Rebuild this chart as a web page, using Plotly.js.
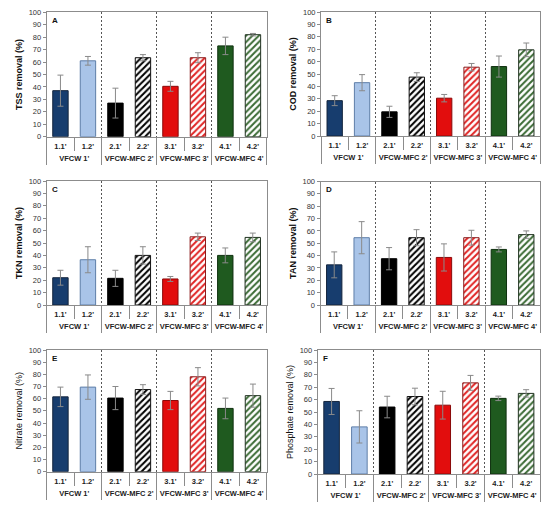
<!DOCTYPE html>
<html>
<head>
<meta charset="utf-8">
<script src="https://cdn.plot.ly/plotly-3.0.1.min.js"></script>
<style>html,body{margin:0;padding:0;background:#fff;}#chart{width:550px;height:505px;}</style>
</head>
<body>
<div id="chart"></div>
<script>
// ---------- DATA ----------
const categories = ["1.1'", "1.2'", "2.1'", "2.2'", "3.1'", "3.2'", "4.1'", "4.2'"];
const groups = ["VFCW 1'", "VFCW-MFC 2'", "VFCW-MFC 3'", "VFCW-MFC 4'"];

const tssMean = [37, 61, 27, 63.5, 40.5, 63.5, 73, 82];
const tssErr  = [12.5, 3.5, 12, 2.5, 4, 4, 7, 1];

const codMean = [28.5, 43, 19.5, 47.5, 30.5, 55.5, 56, 69.5];
const codErr  = [4, 6.5, 4.5, 3.5, 3, 3, 8.5, 5.5];

const tknMean = [22, 36.5, 21.5, 40, 21, 55, 40, 54.5];
const tknErr  = [6, 10.5, 6.5, 7, 2, 3, 6, 3.5];

const tanMean = [32.5, 54.5, 37.5, 54.5, 38.5, 54.5, 45, 57];
const tanErr  = [10.5, 13, 9, 6.5, 11, 6, 2, 3];

const nitMean = [61.5, 69.5, 60.5, 67.5, 58.5, 78, 52, 62.5];
const nitErr  = [8, 10, 9.5, 4, 7.5, 7.5, 8.5, 9.5];

const phoMean = [58.5, 38, 54, 62.5, 55.5, 73.5, 61, 65];
const phoErr  = [10.5, 13, 8.7, 6.7, 11.2, 6, 1.8, 3];

const panelLetters = ["A", "B", "C", "D", "E", "F"];
const yTitles = ["TSS removal (%)", "COD removal (%)", "TKN removal (%)", "TAN removal (%)", "Nitrate removal (%)", "Phosphate removal (%)"];
const yTitleBold = [true, true, true, true, false, false];
const yTickVals = [0, 10, 20, 30, 40, 50, 60, 70, 80, 90, 100];

// ---------- STYLE ----------
const barColors   = ['#173d6e', '#a9c4e8', '#000000', '#000000', '#e20d0d', '#e02424', '#1f5a1f', '#3b6b35'];
const lineColors  = ['#14253d', '#5e7ea8', '#000000', '#111111', '#8a0a0a', '#8b1c1c', '#0f300f', '#223322'];
const hatched     = [false, false, false, true, false, true, false, true];

const FONT = 'Liberation Sans, Arial, sans-serif';
const GRAY = '#8c8c8c';
const W = 550, H = 505;
// panel boxes in px: [left, right, top, bottom]
const boxes = [
  [46.7, 266.7, 12.3, 136.7],
  [321, 540, 12, 136],
  [46.7, 266.5, 181, 305],
  [320.5, 540, 181.5, 305],
  [46.7, 266.7, 350, 471.7],
  [317.7, 540, 350, 474]
];

const means = [tssMean, codMean, tknMean, tanMean, nitMean, phoMean];
const errs  = [tssErr, codErr, tknErr, tanErr, nitErr, phoErr];

const groupCenters = groups.map((g, i) => 2 * i + 0.5);
const groupBounds = [-0.5].concat(groups.map((g, i) => 2 * i + 1.5));

function pick(arr, want) { return arr.filter((v, k) => hatched[k] === want); }

const data = [];
const layout = {
  width: W, height: H,
  margin: {l: 0, r: 0, t: 0, b: 0},
  paper_bgcolor: '#fff', plot_bgcolor: '#fff',
  showlegend: false, barmode: 'overlay',
  font: {family: FONT, color: '#222'},
  annotations: []
};

function axName(p, n) { return p + 'axis' + (n === 1 ? '' : n); }
function axRef(p, n) { return p + (n === 1 ? '' : n); }

for (let i = 0; i < 6; i++) {
  const b = boxes[i];
  const xd = [b[0] / W, b[1] / W];
  const yd = [(H - b[3]) / H, (H - b[2]) / H];
  const nMain = 3 * i + 1, nSep = 3 * i + 2, nGrp = 3 * i + 3, nY = i + 1;
  const xr = axRef('x', nMain), yr = axRef('y', nY);
  const errBar = (want) => ({type: 'data', array: pick(errs[i], want), visible: true, color: '#8a8a8a', thickness: 1, width: 3});

  // solid bars
  data.push({
    type: 'bar', x: pick(categories, false), y: pick(means[i], false), xaxis: xr, yaxis: yr,
    width: 0.56,
    marker: {color: pick(barColors, false), line: {color: pick(lineColors, false), width: 1}},
    error_y: errBar(false), hoverinfo: 'x+y'
  });
  // hatched bars
  data.push({
    type: 'bar', x: pick(categories, true), y: pick(means[i], true), xaxis: xr, yaxis: yr,
    width: 0.56,
    marker: {color: pick(barColors, true), line: {color: pick(lineColors, true), width: 1},
      pattern: {shape: '/', size: 4.5, solidity: 0.45, fillmode: 'replace'}},
    error_y: errBar(true), hoverinfo: 'x+y'
  });
  data.push({type: 'scatter', x: [], y: [], xaxis: axRef('x', nSep), yaxis: yr, hoverinfo: 'skip'});
  data.push({type: 'scatter', x: [], y: [], xaxis: axRef('x', nGrp), yaxis: yr, hoverinfo: 'skip'});

  layout[axName('x', nMain)] = {
    domain: xd, anchor: yr, type: 'category', range: [-0.5, 7.5],
    categoryorder: 'array', categoryarray: categories,
    ticks: '', showline: true, mirror: true, linecolor: GRAY, linewidth: 1,
    showgrid: false, zeroline: false, fixedrange: true,
    tickfont: {family: FONT, size: 7.5, color: '#222', weight: 'bold'},
    ticklabelstandoff: 2
  };
  layout[axName('x', nSep)] = {
    overlaying: xr, anchor: yr, type: 'linear', range: [-0.5, 7.5], side: 'bottom',
    tickmode: 'array', tickvals: groupCenters, ticktext: groups,
    ticks: 'outside', ticklen: 13, tickcolor: GRAY, tickwidth: 1,
    showline: false, showgrid: false, zeroline: false, fixedrange: true,
    tickfont: {family: FONT, size: 7.5, color: '#222', weight: 'bold'},
    ticklabelstandoff: 1
  };
  layout[axName('x', nGrp)] = {
    overlaying: xr, anchor: yr, type: 'linear', range: [-0.5, 7.5], side: 'bottom',
    tickmode: 'array', tickvals: groupBounds.concat([7.5]),
    ticks: 'outside', ticklen: 27, tickcolor: GRAY, tickwidth: 1,
    showticklabels: false, showline: false, zeroline: false, fixedrange: true,
    showgrid: true, gridcolor: '#555', gridwidth: 1, griddash: '2px,2px'
  };
  layout[axName('y', nY)] = {
    domain: yd, anchor: xr, range: [0, 100],
    tickmode: 'array', tickvals: yTickVals,
    ticks: 'outside', ticklen: 3, tickcolor: GRAY, tickwidth: 1,
    showline: true, mirror: true, linecolor: GRAY, linewidth: 1,
    showgrid: false, zeroline: false, fixedrange: true,
    tickfont: {family: FONT, size: 7.5, color: '#333'},
    title: {text: yTitles[i], standoff: 4,
      font: {family: FONT, size: 9, color: '#111', weight: yTitleBold[i] ? 'bold' : 'normal'}}
  };
  layout.annotations.push({
    xref: xr + ' domain', yref: yr + ' domain', x: 0.015, y: 0.985,
    xanchor: 'left', yanchor: 'top', showarrow: false,
    text: '<b>' + panelLetters[i] + '</b>',
    font: {family: FONT, size: 8, color: '#111'}
  });
}

Plotly.newPlot('chart', data, layout, {displayModeBar: false, staticPlot: true});
</script>
</body>
</html>
